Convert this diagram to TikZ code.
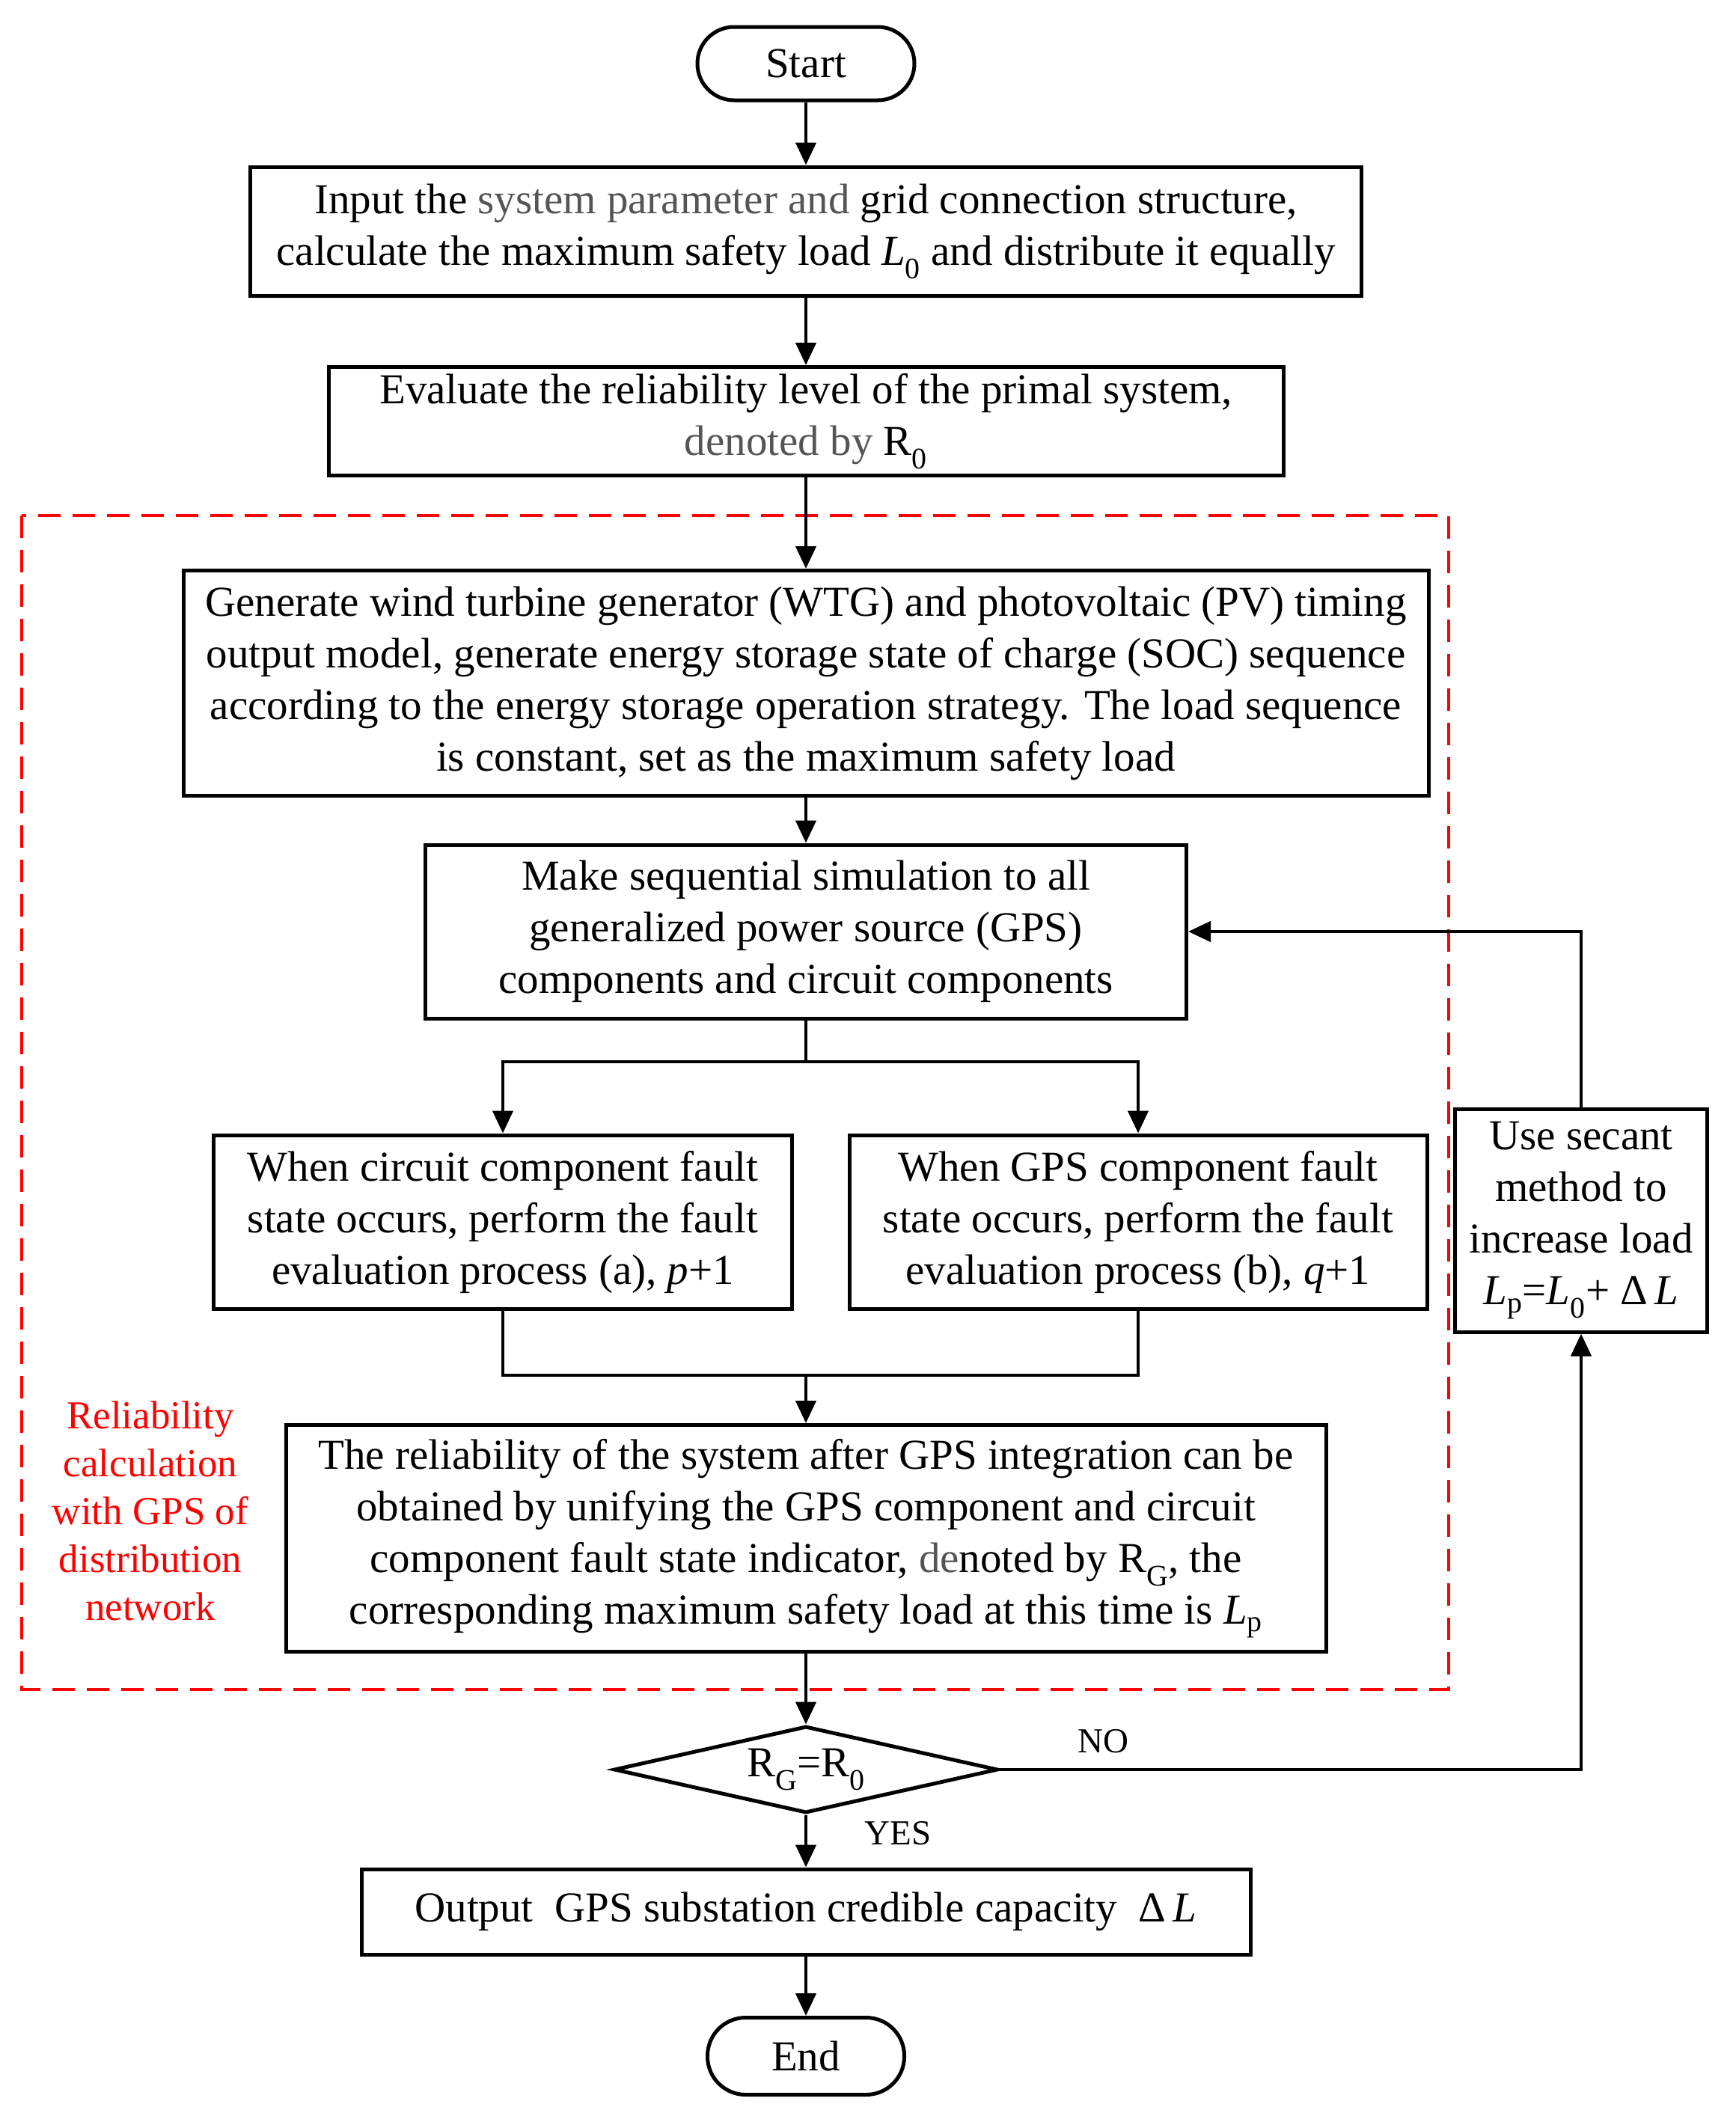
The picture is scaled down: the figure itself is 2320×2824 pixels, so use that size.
\documentclass[tikz,border=0pt]{standalone}
\usepackage{fontspec}
\setmainfont{Liberation Serif}
\usetikzlibrary{arrows.meta,shapes.geometric,calc}
\definecolor{txtgray}{RGB}{85,85,85}
\definecolor{dashred}{RGB}{255,0,0}
\begin{document}
\begin{tikzpicture}[x=1pt,y=-1pt,
  box/.style={draw, line width=5pt, align=center, inner sep=0pt, font=\fontsize{57}{69}\selectfont},
  arr/.style={line width=4.5pt, -{Triangle[length=30pt,width=27pt]}},
  ln/.style={line width=4.5pt},
  lbl/.style={font=\fontsize{47}{56}\selectfont, inner sep=0pt}
]
\path[use as bounding box, fill=white] (0,0) rectangle (2320,2824);
% red dashed region
\draw[dashred, line width=4.5pt, dash pattern=on 30pt off 16pt] (29,689) rectangle (1936,2258);
\node[font=\fontsize{53}{64}\selectfont, text=dashred, align=center, inner sep=0pt] (redlbl) at (201,2019)
  {Reliability\\calculation\\with GPS of\\distribution\\network};

\node[box, rounded corners=49pt, minimum width=290pt, minimum height=98pt] (start) at (1077,85) {Start};
\node[box, minimum width=1485pt, minimum height=172pt] (b1) at (1077,309)
  {Input the \textcolor{txtgray}{system parameter and} grid connection structure,\\
   calculate the maximum safety load \textit{L}\textsubscript{0} and distribute it equally};
\node[box, minimum width=1276pt, minimum height=145pt] (b2) at (1077,563)
  {Evaluate the reliability level of the primal system,\\
   \textcolor{txtgray}{denoted by} R\textsubscript{0}};
\node[box, minimum width=1664pt, minimum height=301pt] (b3) at (1077,913)
  {Generate wind turbine generator (WTG) and photovoltaic (PV) timing\\
   output model, generate energy storage state of charge (SOC) sequence\\
   according to the energy storage operation strategy. The load sequence\\
   is constant, set as the maximum safety load};
\node[box, minimum width=1017pt, minimum height=232pt] (b4) at (1077,1245)
  {Make sequential simulation to all\\
   generalized power source (GPS)\\
   components and circuit components};
\node[box, minimum width=773pt, minimum height=232pt] (b5a) at (672,1633)
  {When circuit component fault\\
   state occurs, perform the fault\\
   evaluation process (a), \textit{p}+1};
\node[box, minimum width=772pt, minimum height=232pt] (b5b) at (1521,1633)
  {When GPS component fault\\
   state occurs, perform the fault\\
   evaluation process (b), \textit{q}+1};
\node[box, minimum width=1390pt, minimum height=303pt] (b6) at (1077,2056)
  {The reliability of the system after GPS integration can be\\
   obtained by unifying the GPS component and circuit\\
   component fault state indicator, \textcolor{txtgray}{de}noted by R\textsubscript{G}, the\\
   corresponding maximum safety load at this time is \textit{L}\textsubscript{p}};
\node[box, shape=diamond, aspect=4.42, minimum width=513pt, minimum height=116pt] (dia) at (1077,2365)
  {R\textsubscript{G}=R\textsubscript{0}};
\node[box, minimum width=1188pt, minimum height=114pt] (out) at (1077,2555)
  {Output\ \ GPS substation credible capacity\ \ Δ\,\textit{L}};
\node[box, rounded corners=51pt, minimum width=263pt, minimum height=103pt] (end) at (1077,2748) {End};
\node[box, minimum width=337pt, minimum height=298pt] (side) at (2113,1631)
  {Use secant\\ method to\\ increase load\\ \textit{L}\textsubscript{p}=\textit{L}\textsubscript{0}+ Δ\,\textit{L}};

% connectors
\draw[arr] (start) -- (b1);
\draw[arr] (b1) -- (b2);
\draw[arr] (b2) -- (b3);
\draw[arr] (b3) -- (b4);
\coordinate (split) at (1077,1419);
\draw[ln] (b4.south) -- (split);
\draw[arr] (split) -| (b5a.north);
\draw[arr] (split) -| (b5b.north);
\coordinate (merge) at (1077,1838);
\draw[ln] (b5a.south) |- (merge);
\draw[ln] (b5b.south) |- (merge);
\draw[arr] (merge) -- (b6.north);
\draw[arr] (b6) -- (dia);
\draw[arr] (dia) -- (out);
\draw[arr] (out) -- (end);
\draw[arr] (dia.east) -| (side.south);
\draw[arr] (side.north) |- (b4.east);
\node[lbl] (no) at (1474,2327) {NO};
\node[lbl] (yes) at (1200,2450) {YES};
\end{tikzpicture}
\end{document}
